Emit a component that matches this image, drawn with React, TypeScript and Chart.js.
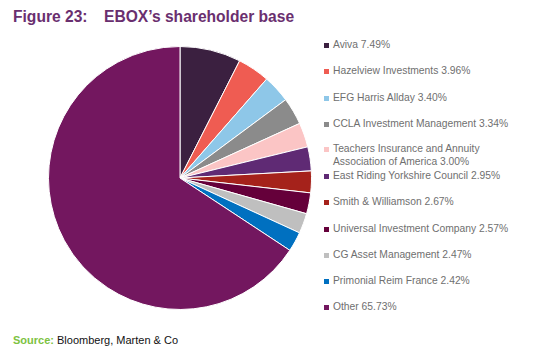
import React, { useEffect, useRef } from "react";
import { Chart, registerables } from "chart.js";

Chart.register(...registerables);

const holders = [
  "Aviva",
  "Hazelview Investments",
  "EFG Harris Allday",
  "CCLA Investment Management",
  "Teachers Insurance and Annuity Association of America",
  "East Riding Yorkshire Council",
  "Smith & Williamson",
  "Universal Investment Company",
  "CG Asset Management",
  "Primonial Reim France",
  "Other",
];
const legendLines = [
  ["Aviva 7.49%"],
  ["Hazelview Investments 3.96%"],
  ["EFG Harris Allday 3.40%"],
  ["CCLA Investment Management 3.34%"],
  ["Teachers Insurance and Annuity", "Association of America 3.00%"],
  ["East Riding Yorkshire Council 2.95%"],
  ["Smith & Williamson 2.67%"],
  ["Universal Investment Company 2.57%"],
  ["CG Asset Management 2.47%"],
  ["Primonial Reim France 2.42%"],
  ["Other 65.73%"],
];
const shares = [7.49, 3.96, 3.4, 3.34, 3.0, 2.95, 2.67, 2.57, 2.47, 2.42, 65.73];
const colors = [
  "#3b2040",
  "#ef5c52",
  "#8ec7e8",
  "#8b8b8b",
  "#fbc5c5",
  "#5f2a74",
  "#a5221b",
  "#65003a",
  "#bfbfbf",
  "#0070c0",
  "#73175f",
];
const legendTops = [45, 71, 98, 124, 149, 176, 202, 229, 255, 281, 307];

export default function App() {
  const ref = useRef<HTMLCanvasElement | null>(null);
  useEffect(() => {
    if (!ref.current) return;
    const chart = new Chart(ref.current, {
      type: "pie",
      data: {
        labels: holders,
        datasets: [
          {
            data: shares,
            backgroundColor: colors,
            borderColor: "#ffffff",
            borderWidth: 1,
          },
        ],
      },
      options: {
        responsive: false,
        animation: false,
        layout: { padding: 0 },
        plugins: { legend: { display: false }, tooltip: { enabled: false } },
      },
    });
    return () => chart.destroy();
  }, []);

  const font = "'Liberation Sans', Arial, sans-serif";
  const titleStyle: React.CSSProperties = {
    position: "absolute",
    top: 8,
    fontSize: 15.6,
    fontWeight: "bold",
    color: "#6a2f6f",
    whiteSpace: "pre",
  };
  return (
    <div style={{ position: "absolute", left: 0, top: 0, width: 535, height: 356, background: "#fff", fontFamily: font }}>
      <div style={{ ...titleStyle, left: 13 }}>Figure 23:</div>
      <div style={{ ...titleStyle, left: 104 }}>{"EBOX\u2019s shareholder base"}</div>
      <canvas
        ref={ref}
        width={264}
        height={264}
        style={{ position: "absolute", left: 48, top: 46, width: 264, height: 264 }}
      />
      {legendLines.map((lines, i) => (
        <div key={i} style={{ position: "absolute", left: 324, top: legendTops[i] - 7 }}>
          <div
            style={{
              position: "absolute",
              left: 0,
              top: 5,
              width: 5,
              height: 5,
              background: colors[i],
            }}
          />
          {lines.map((t, j) => (
            <div
              key={j}
              style={{
                position: "absolute",
                left: 9,
                top: j * 13,
                fontSize: 10.3,
                lineHeight: "14px",
                color: "#6f6f6f",
                whiteSpace: "nowrap",
              }}
            >
              {t}
            </div>
          ))}
        </div>
      ))}
      <div style={{ position: "absolute", left: 13, top: 334, fontSize: 11, whiteSpace: "nowrap", color: "#111" }}>
        <span style={{ color: "#7dc242", fontWeight: "bold" }}>Source:</span> Bloomberg, Marten &amp; Co
      </div>
    </div>
  );
}
